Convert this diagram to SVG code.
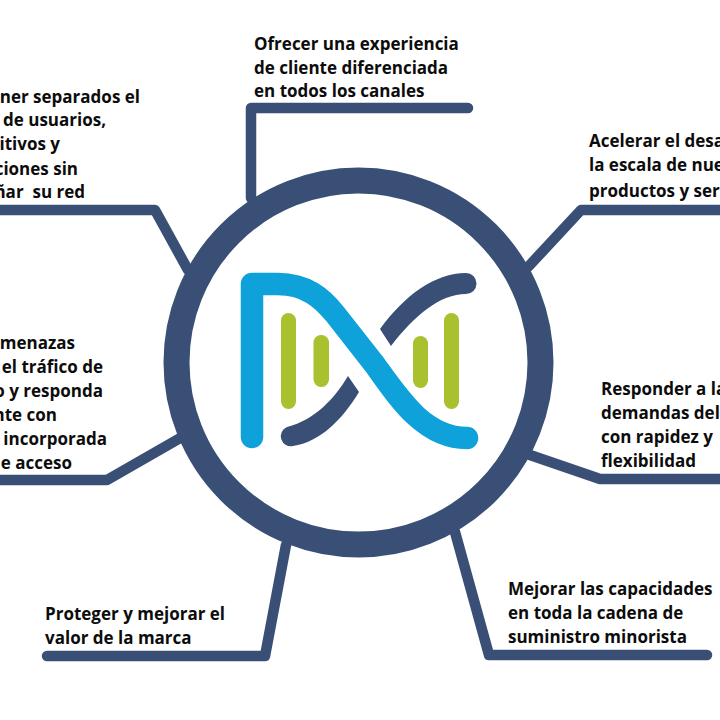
<svg xmlns="http://www.w3.org/2000/svg" width="720" height="720" viewBox="0 0 720 720">
<style>
.c{fill:none;stroke:#3a4f76;stroke-width:10.5;stroke-linecap:round;stroke-linejoin:round}
text{font-family:"Open Sans","Noto Sans","Liberation Sans",sans-serif;font-weight:700;font-size:17px;fill:#0c0c0c;white-space:pre}
.e{text-anchor:end}
.g{fill:#a9c02f}
.d{fill:#3a4f76}
</style>
<rect width="720" height="720" fill="#fff"/>
<g id="connectors">
<path class="c" d="M251 198V108H468"/>
<path class="c" d="M-10 210H155L188 270"/>
<path class="c" d="M730 210H581L528 267"/>
<path class="c" d="M-10 480H107L182 437"/>
<path class="c" d="M730 479H600L530 455"/>
<path class="c" d="M47 656H265L286 545"/>
<path class="c" d="M707 655H489L455 532"/>
</g>
<g id="hub">
<circle cx="358.500" cy="362.500" r="182" fill="#fff" stroke="#3a4f76" stroke-width="26"/>
<g id="logo">
<path class="d" d="M380 329C405 295 435 273 466 273A10.500 10.500 0 0 1 466 294C440 294 415 315 391 346Z"/>
<path class="d" d="M348 376C335 398 315 420 287 427A10 10 0 0 0 293 446C320 442 342 420 359 392Z"/>
<path fill="none" stroke="#0ea1da" stroke-width="22.500" stroke-linecap="round" stroke-linejoin="round" d="M252 437V284H278C306 284 322 298 335 314L375 365C400 400 425 438 467 438"/>
<rect class="g" x="281" y="313" width="15" height="96" rx="7.500"/>
<rect class="g" x="313.500" y="335" width="15.500" height="52" rx="7.500"/>
<rect class="g" x="413" y="336" width="15" height="52" rx="7.500"/>
<rect class="g" x="444" y="313" width="15" height="96" rx="7.500"/>
</g>
</g>
<g id="n-top"><text x="254" y="50">Ofrecer una experiencia</text><text x="254" y="74">de cliente diferenciada</text><text x="254" y="97">en todos los canales</text></g>
<g id="n-upper-left"><text class="e" x="140" y="103">ner separados el</text><text class="e" x="106" y="126">de usuarios,</text><text class="e" x="60" y="150">itivos y</text><text class="e" x="78" y="175">ciones sin</text><text class="e" x="85" y="198">ñar  su red</text></g>
<g id="n-upper-right"><text x="589" y="147">Acelerar el desa</text><text x="589" y="171">la escala de nue</text><text x="589" y="197">productos y ser</text></g>
<g id="n-mid-left"><text class="e" x="75" y="349">menazas</text><text class="e" x="103" y="373">el tráfico de</text><text class="e" x="103" y="397">o y responda</text><text class="e" x="57" y="421">nte con</text><text class="e" x="107" y="445">incorporada</text><text class="e" x="72" y="469">e acceso</text></g>
<g id="n-mid-right"><text x="601" y="395">Responder a la</text><text x="601" y="419">demandas del</text><text x="601" y="443">con rapidez y</text><text x="601" y="467">flexibilidad</text></g>
<g id="n-bottom-left"><text x="45" y="620">Proteger y mejorar el</text><text x="45" y="644">valor de la marca</text></g>
<g id="n-bottom-right"><text x="508" y="595">Mejorar las capacidades</text><text x="508" y="619">en toda la cadena de</text><text x="508" y="643">suministro minorista</text></g>
</svg>
